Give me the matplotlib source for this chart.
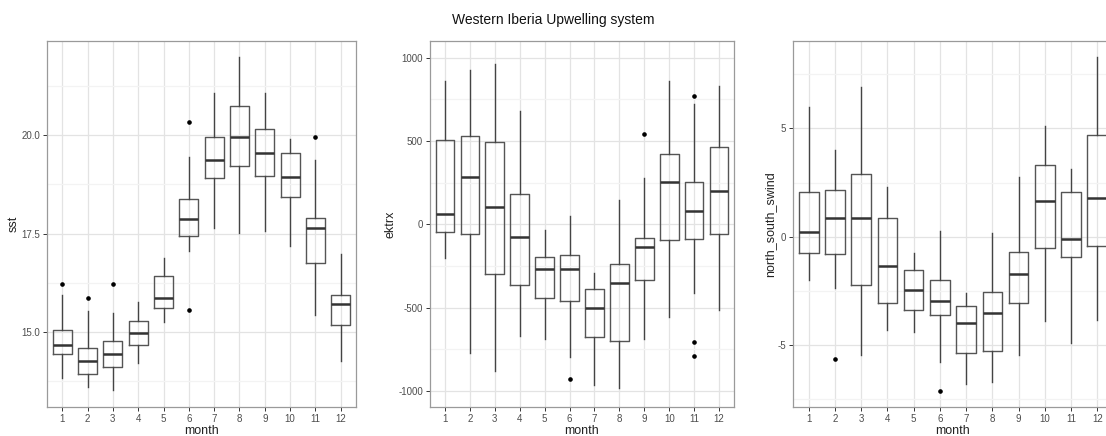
import numpy as np
import matplotlib.pyplot as plt
from matplotlib.ticker import MultipleLocator

plt.rcParams['font.family'] = ['Liberation Sans', 'DejaVu Sans']

months = list(range(1, 13))

# sea surface temperature, box stats per month
sst_whislo = [13.84, 13.61, 13.53, 14.20, 15.25, 17.06, 17.64, 17.51, 17.57, 17.19, 15.42, 14.27]
sst_q1 = [14.44, 13.92, 14.12, 14.67, 15.60, 17.45, 18.91, 19.21, 18.97, 18.43, 16.75, 15.17]
sst_med = [14.67, 14.27, 14.44, 14.96, 15.85, 17.87, 19.38, 19.97, 19.56, 18.93, 17.64, 15.70]
sst_q3 = [15.06, 14.60, 14.76, 15.29, 16.41, 18.38, 19.96, 20.74, 20.15, 19.54, 17.91, 15.95]
sst_whishi = [15.93, 15.53, 15.47, 15.76, 16.88, 19.44, 21.08, 22.00, 21.08, 19.91, 19.37, 16.97]
sst_fliers = [[16.23], [15.85], [16.23], [], [], [20.34, 15.55], [], [], [], [], [19.97], []]

# Ekman transport
ek_whislo = [-204, -772, -880, -668, -686, -798, -964, -982, -690, -556, -412, -512]
ek_q1 = [-48, -58, -296, -362, -440, -458, -676, -698, -332, -96, -86, -58]
ek_med = [64, 284, 106, -78, -270, -270, -502, -352, -136, 252, 78, 198]
ek_q3 = [508, 528, 496, 184, -194, -184, -386, -236, -80, 424, 254, 464]
ek_whishi = [858, 928, 960, 680, -36, 52, -290, 148, 278, 858, 724, 830]
ek_fliers = [[], [], [], [], [], [-928], [], [], [542], [], [772, -708, -788], []]

# meridional wind component
ns_whislo = [-1.98, -2.37, -5.48, -4.32, -4.40, -5.78, -6.82, -6.69, -5.45, -3.91, -4.91, -3.86]
ns_q1 = [-0.74, -0.80, -2.25, -3.08, -3.40, -3.60, -5.38, -5.26, -3.08, -0.51, -0.92, -0.43]
ns_med = [0.22, 0.88, 0.88, -1.35, -2.46, -2.97, -4.00, -3.51, -1.72, 1.66, -0.11, 1.80]
ns_q3 = [2.06, 2.14, 2.89, 0.86, -1.52, -1.98, -3.20, -2.55, -0.71, 3.31, 2.06, 4.71]
ns_whishi = [6.00, 3.98, 6.91, 2.29, -0.74, 0.25, -2.62, 0.17, 2.74, 5.09, 3.11, 8.29]
ns_fliers = [[], [-5.66], [], [], [], [-7.11], [], [], [], [], [], []]


def make_stats(lo, q1, med, q3, hi, fl):
    return [dict(whislo=a, q1=b, med=c, q3=d, whishi=e, fliers=f)
            for a, b, c, d, e, f in zip(lo, q1, med, q3, hi, fl)]


def style_axis(ax, ylabel, ylim, major, minor, fmt):
    ax.set_xlim(0.4, 12.6)
    ax.set_ylim(*ylim)
    ax.set_xticks(months)
    ax.set_xticklabels([str(m) for m in months])
    ax.yaxis.set_major_locator(MultipleLocator(major))
    ax.yaxis.set_minor_locator(MultipleLocator(minor))
    ax.yaxis.set_major_formatter(fmt)
    ax.grid(which='major', color='#e3e3e3', linewidth=0.9)
    ax.grid(which='minor', axis='y', color='#f3f3f3', linewidth=0.9)
    ax.set_axisbelow(True)
    for s in ax.spines.values():
        s.set_color('#9a9a9a')
        s.set_linewidth(0.9)
    ax.tick_params(which='major', labelsize=7, colors='#333333', labelcolor='#4d4d4d',
                   length=3, width=0.7, pad=2)
    ax.tick_params(which='minor', length=0)
    ax.set_xlabel('month', fontsize=9, color='#222222', labelpad=1)
    ax.set_ylabel(ylabel, fontsize=9, color='#222222', labelpad=1)


fig = plt.figure(figsize=(11.06, 4.36), dpi=100)
fig.text(0.5, 0.955, 'Western Iberia Upwelling system', ha='center', va='center',
         fontsize=10, color='#111111')

H = 436.0
W = 1106.0
panels = [
    (47, 356, 'sst', (13.09, 22.4), 2.5, 1.25, lambda v, p: f'{v:.1f}',
     make_stats(sst_whislo, sst_q1, sst_med, sst_q3, sst_whishi, sst_fliers)),
    (430, 734, 'ektrx', (-1096, 1100), 500, 250, lambda v, p: f'{v:.0f}',
     make_stats(ek_whislo, ek_q1, ek_med, ek_q3, ek_whishi, ek_fliers)),
    (793, 1113, 'north_south_swind', (-7.86, 9.03), 5, 2.5, lambda v, p: f'{v:.0f}',
     make_stats(ns_whislo, ns_q1, ns_med, ns_q3, ns_whishi, ns_fliers)),
]

for left, right, ylabel, ylim, major, minor, fmt, stats in panels:
    ax = fig.add_axes([left / W, 1 - 407 / H, (right - left) / W, (407 - 41) / H])
    ax.bxp(stats, positions=months, widths=0.75, showcaps=False, patch_artist=False,
           boxprops=dict(color='#555555', linewidth=1.0),
           whiskerprops=dict(color='#444444', linewidth=1.0),
           medianprops=dict(color='#333333', linewidth=1.8),
           flierprops=dict(marker='o', markersize=2.3, markerfacecolor='black',
                           markeredgecolor='black'))
    style_axis(ax, ylabel, ylim, major, minor, plt.FuncFormatter(fmt))

fig.savefig('out.png', dpi=100)
